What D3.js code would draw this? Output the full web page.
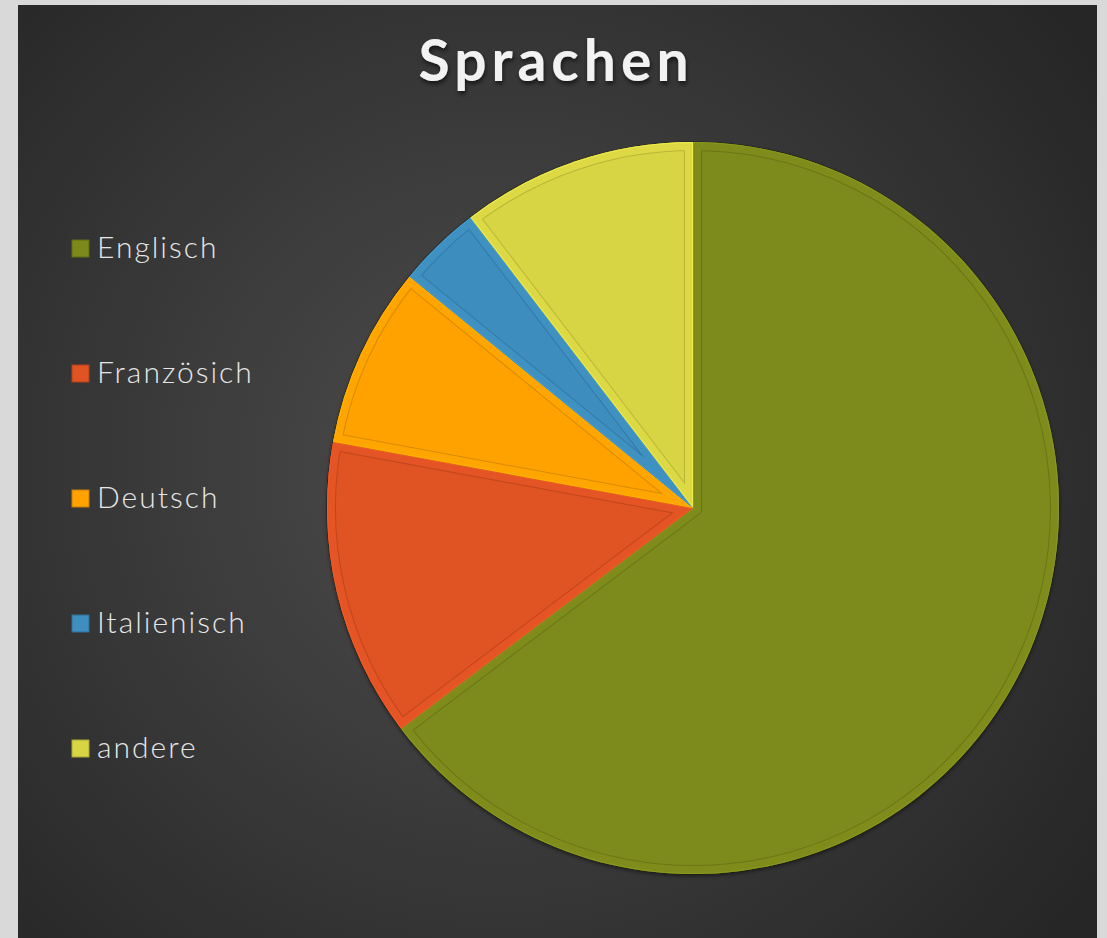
<!DOCTYPE html>
<html><head><meta charset="utf-8">
<script src="https://cdn.jsdelivr.net/npm/d3@7"></script>
<style>html,body{margin:0;padding:0;background:#d9d9d9;}</style>
</head><body>
<svg id="c" width="1107" height="938"></svg>
<script>
const categories = ["Englisch", "Französich", "Deutsch", "Italienisch", "andere"];
const values = [64.7, 13.2, 8.0, 3.7, 10.4];
const colors = ["#7d8a1b", "#e05323", "#ffa200", "#3e8ebf", "#d8d544"];
const title = "Sprachen";

const svg = d3.select("#c");
const defs = svg.append("defs");
const rg = defs.append("radialGradient").attr("id","bg")
  .attr("gradientUnits","userSpaceOnUse").attr("cx",500).attr("cy",470).attr("r",720);
rg.append("stop").attr("offset","0").attr("stop-color","#4d4d4d");
rg.append("stop").attr("offset","1").attr("stop-color","#262626");
const sh = defs.append("filter").attr("id","tsh").attr("x","-10%").attr("y","-20%").attr("width","120%").attr("height","150%");
sh.append("feDropShadow").attr("dx",1).attr("dy",3).attr("stdDeviation",2).attr("flood-color","#000").attr("flood-opacity",0.6);
const ps = defs.append("filter").attr("id","psh").attr("x","-10%").attr("y","-10%").attr("width","120%").attr("height","120%");
ps.append("feDropShadow").attr("dx",0).attr("dy",2).attr("stdDeviation",2).attr("flood-color","#000").attr("flood-opacity",0.5);

svg.append("rect").attr("x",18).attr("y",5).attr("width",1079).attr("height",933).attr("fill","url(#bg)");

svg.append("text").attr("x",556).attr("y",81).attr("text-anchor","middle")
  .attr("font-family","Lato, 'Open Sans', sans-serif").attr("font-weight",700)
  .attr("font-size",57).attr("letter-spacing",5).attr("fill","#f2f2f2")
  .attr("filter","url(#tsh)").text(title);

const cx = 693, cy = 508, R = 366;
const pie = d3.pie().sort(null).value(d => d)(values);
const arc = d3.arc().innerRadius(0).outerRadius(R);
const g = svg.append("g").attr("transform",`translate(${cx},${cy})`);

pie.forEach((p,i) => {
  const d = arc(p);
  const cid = "clip"+i;
  defs.append("clipPath").attr("id",cid).append("path").attr("d",d).attr("transform",`translate(${cx},${cy})`);
  g.append("path").attr("d",d).attr("fill",colors[i]).attr("filter","url(#psh)");
  const inner = svg.append("g").attr("clip-path",`url(#${cid})`).append("g").attr("transform",`translate(${cx},${cy})`);
  inner.append("path").attr("d",d).attr("fill","none").attr("stroke",d3.color(colors[i]).darker(0.45)).attr("stroke-width",18).attr("stroke-linejoin","miter");
  inner.append("path").attr("d",d).attr("fill","none").attr("stroke",d3.color(colors[i]).brighter(0.05)).attr("stroke-width",16).attr("stroke-linejoin","miter");
  inner.append("path").attr("d",d).attr("fill","none").attr("stroke",d3.color(colors[i]).brighter(0.5)).attr("stroke-width",2).attr("stroke-opacity",0.5);
});
g.selectAll("path.out").data(pie).join("path").attr("class","out").attr("d",arc)
  .attr("fill","none").attr("stroke","#1e1e10").attr("stroke-width",1.2).attr("stroke-opacity",0.85);

const y = d3.scalePoint().domain(categories).range([248,748]);
const lg = svg.append("g");
categories.forEach((c,i) => {
  const yy = y(c);
  lg.append("rect").attr("x",72).attr("y",yy-8).attr("width",17).attr("height",17)
    .attr("fill",colors[i]).attr("stroke",d3.color(colors[i]).darker(0.7)).attr("stroke-width",1);
  lg.append("text").attr("x",97).attr("y",yy+10).attr("font-family","Lato, 'Open Sans', sans-serif")
    .attr("font-weight",300).attr("font-size",30).attr("letter-spacing",2).attr("fill","#e6e6e6").text(c);
});
</script>
</body></html>
